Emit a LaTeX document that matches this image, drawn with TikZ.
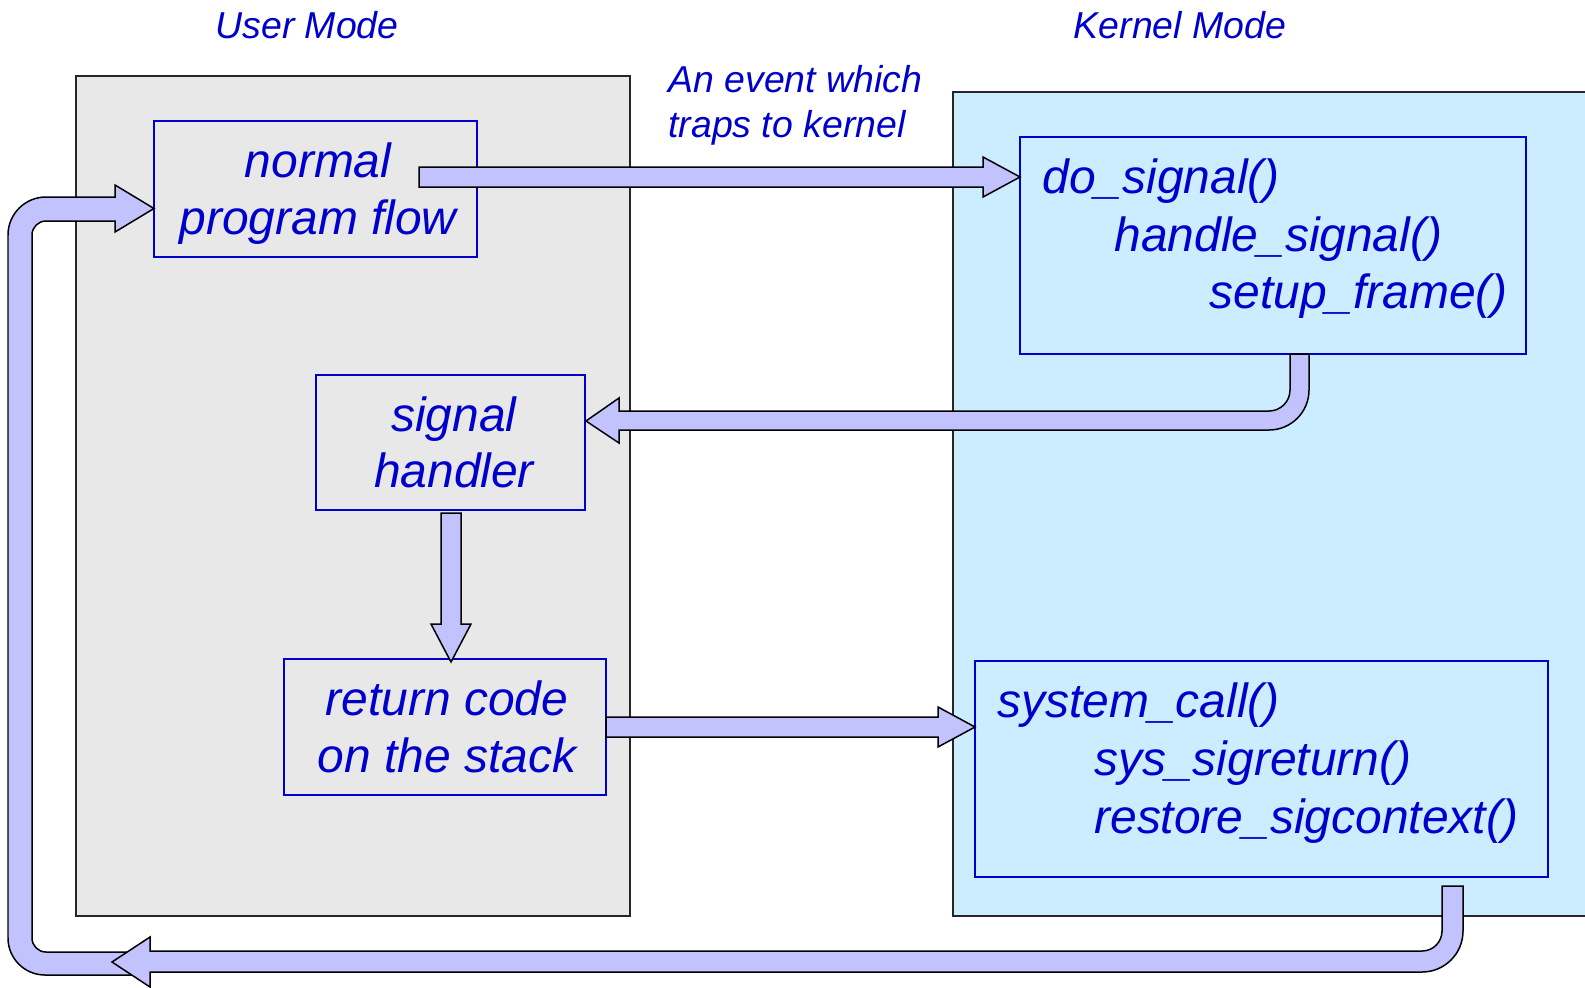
\documentclass[tikz,border=0pt]{standalone}
\usepackage{fontspec}
\setmainfont{Liberation Sans}
\definecolor{ublue}{HTML}{0000CC}
\definecolor{userfill}{HTML}{E8E8E8}
\definecolor{kernfill}{HTML}{CCECFF}
\definecolor{arrowfill}{HTML}{C2C2FF}
\begin{document}
\begin{tikzpicture}[x=0.02cm,y=-0.02cm,
  modebox/.style={draw=black!85, line width=0.03cm, inner sep=0, outer sep=0},
  bluebox/.style={draw=ublue, line width=0.04cm, inner sep=0, outer sep=0},
  txt/.style={font=\fontsize{27.3}{32}\selectfont\itshape, text=ublue, inner sep=0},
  lbl/.style={font=\fontsize{21.3}{25}\selectfont\itshape, text=ublue, inner sep=0},
  fat/.style={draw=black, fill=arrowfill, line width=0.03cm, line join=miter}]
\useasboundingbox (0,0) rectangle (1585,987);
\fill[white] (0,0) rectangle (1585,987);
% mode areas
\node[modebox, fill=userfill, minimum width=11.08cm, minimum height=16.8cm] (user) at (353,496) {};
\node[modebox, fill=kernfill, minimum width=12.94cm, minimum height=16.48cm] (kernel) at (1276.5,504) {};
\node[lbl, anchor=base] (usertitle) at (307,38) {User Mode};
\node[lbl, anchor=base] (kerntitle) at (1180,38) {Kernel Mode};
\node[lbl, anchor=base west] (ev1) at (668,92) {An event which};
\node[lbl, anchor=base west] (ev2) at (668,137) {traps to kernel};
% boxes
\node[bluebox, minimum width=6.46cm, minimum height=2.72cm] (normal) at (315.5,189) {};
\node[bluebox, minimum width=10.12cm, minimum height=4.34cm] (dosig) at (1273,245.5) {};
\node[bluebox, minimum width=5.38cm, minimum height=2.70cm] (handler) at (450.5,442.5) {};
\node[bluebox, minimum width=6.44cm, minimum height=2.72cm] (retcode) at (445,727) {};
\node[bluebox, minimum width=11.46cm, minimum height=4.32cm] (syscall) at (1261.5,769) {};
% texts
\node[txt, anchor=base] (n1) at (318,177) {normal};
\node[txt, anchor=base] (n2) at (318,234) {program flow};
\node[txt, anchor=base west] (d1) at (1042,193) {do\_signal()};
\node[txt, anchor=base west] (d2) at (1114,251) {handle\_signal()};
\node[txt, anchor=base west] (d3) at (1209,308) {setup\_frame()};
\node[txt, anchor=base] (h1) at (454,431) {signal};
\node[txt, anchor=base] (h2) at (454,487) {handler};
\node[txt, anchor=base] (r1) at (447,715) {return code};
\node[txt, anchor=base] (r2) at (447,772) {on the stack};
\node[txt, anchor=base west] (s1) at (997,717) {system\_call()};
\node[txt, anchor=base west] (s2) at (1094,775) {sys\_sigreturn()};
\node[txt, anchor=base west] (s3) at (1094,833) {restore\_sigcontext()};
% block arrows
% normal -> do_signal
\draw[fat] (419,167) -- (983,167) -- (983,157) -- (1020,177) -- (983,197) -- (983,187) -- (419,187) -- cycle;
% do_signal -> signal handler
\draw[fat] (1290,354) -- (1290,390) arc(0:90:21) -- (619,411) -- (619,398) -- (586,421) -- (619,443) -- (619,430) -- (1269,430) arc(90:0:40) -- (1309,354) -- cycle;
% signal handler -> return code
\draw[fat] (441,513) -- (461,513) -- (461,624) -- (471,624) -- (451,662) -- (431,624) -- (441,624) -- cycle;
% return code -> system_call
\draw[fat] (606,717) -- (938,717) -- (938,707) -- (975,727) -- (938,747) -- (938,737) -- (606,737) -- cycle;
% loop back to normal program flow
\draw[fat] (148,952) -- (46,952) arc(90:180:14) -- (32,235) arc(180:270:14) -- (115,221) -- (115,232) -- (154,208.5) -- (115,185) -- (115,197) -- (46,197) arc(270:180:38) -- (8,938) arc(180:90:37) -- (148,975) -- cycle;
% system_call -> back
\draw[fat] (1442,886) -- (1442,931) arc(0:90:20) -- (150,951) -- (150,937) -- (112,962) -- (150,987) -- (150,972) -- (1422,972) arc(90:0:41) -- (1463,886) -- cycle;
\end{tikzpicture}
\end{document}
